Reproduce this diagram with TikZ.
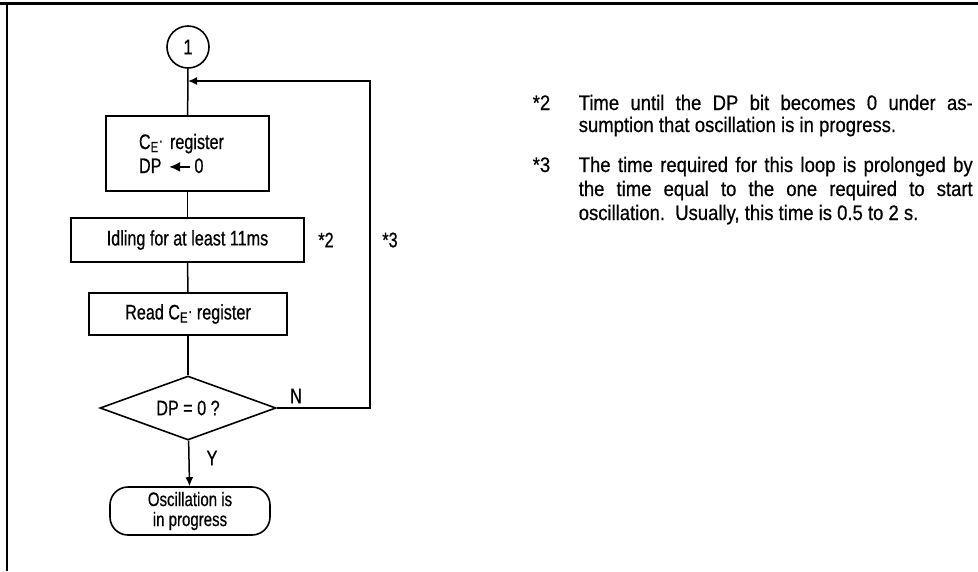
\documentclass[tikz,border=0pt]{standalone}
\usepackage{fontspec}
\setmainfont{Liberation Sans}[FakeStretch=0.8,FakeBold=0.6]
\newfontfamily\boxff{Liberation Sans}[FakeStretch=0.77,FakeBold=0.6]
\newfontfamily\noteff{Liberation Sans}[FakeStretch=0.88,FakeBold=0.6]
\usetikzlibrary{arrows.meta,shapes.geometric}
\newcommand{\boxfont}{\boxff\fontsize{21pt}{24pt}\selectfont}
\newcommand{\notefont}{\noteff\fontsize{21pt}{25pt}\selectfont}
\newcommand{\CEreg}{C\textsubscript{E}\raisebox{0.25ex}{\scalebox{0.8}{·}}}
\begin{document}
\begin{tikzpicture}[x=1pt,y=-1pt,
  line width=1.5pt,
  stepbox/.style={draw,line width=1.6pt,inner sep=0pt,font=\boxfont},
  conn/.style={line width=1.5pt},
  arr/.style={line width=1.5pt,-{Latex[length=9pt,width=8pt]}},
  lbl/.style={inner sep=0pt,font=\boxfont},
  note/.style={inner sep=0pt,anchor=base west,font=\notefont}]
\useasboundingbox (0,0) rectangle (978,571);
% frame
\draw[line width=2.6pt] (0,3.5) -- (978,3.5);
\draw[line width=2.6pt] (7,3.5) -- (7,571);
% flowchart nodes
\node[circle,draw,line width=1.6pt,minimum size=42pt,inner sep=0pt,font=\boxff\fontsize{21pt}{22pt}\selectfont] (c1) at (188,47) {1};
\node[stepbox,minimum width=163pt,minimum height=75pt,text width=97pt,align=left] (b1) at (187.5,153.5)
  {\CEreg{} register\\DP\,\,\tikz[baseline=-0.55ex]\draw[line width=1.5pt,{Latex[length=11pt,width=10pt]}-](0pt,0pt)--(21pt,0pt);\,0};
\node[stepbox,minimum width=233pt,minimum height=44pt] (b2) at (187.5,240) {Idling for at least 11ms};
\node[stepbox,minimum width=198pt,minimum height=42pt] (b3) at (188,314) {Read \CEreg{} register};
\node[diamond,draw,line width=1.6pt,inner sep=0pt,aspect=2.75,minimum width=176pt,minimum height=64pt,font=\boxfont] (d) at (188,408) {DP = 0 ?};
\node[draw,line width=1.6pt,rounded corners=18pt,minimum width=160pt,minimum height=48pt,inner sep=0pt,align=center,font=\boxff\fontsize{19.5pt}{20pt}\selectfont] (t) at (190,511) {Oscillation is\\in progress};
% loop coordinate
\coordinate (lt) at (370,81);
% connectors
\draw[conn] (c1) -- (b1);
\draw[conn] (b1) -- (b2);
\draw[conn] (b2) -- (b3);
\draw[conn] (b3) -- (d);
\draw[arr] (d) -- (t);
\draw[arr] (d.east) -| (lt) -- (c1 |- lt);
% labels
\node[lbl] (lN) at (296,396) {N};
\node[lbl] (lY) at (212,458) {Y};
\node[lbl] (s2) at (326,240) {*2};
\node[lbl] (s3) at (390,240) {*3};
% notes
\node[note] (m2) at (532,110) {*2};
\node[note] (n2a) at (578,110) {\makebox[394pt][s]{Time until the DP bit becomes 0 under as-}};
\node[note] (n2b) at (578,132) {sumption that oscillation is in progress.};
\node[note] (m3) at (532,172) {*3};
\node[note] (n3a) at (578,172) {\makebox[394pt][s]{The time required for this loop is prolonged by}};
\node[note] (n3b) at (578,196) {\makebox[394pt][s]{the time equal to the one required to start}};
\node[note] (n3c) at (578,220) {oscillation.\ \ Usually, this time is 0.5 to 2 s.};
\end{tikzpicture}
\end{document}
